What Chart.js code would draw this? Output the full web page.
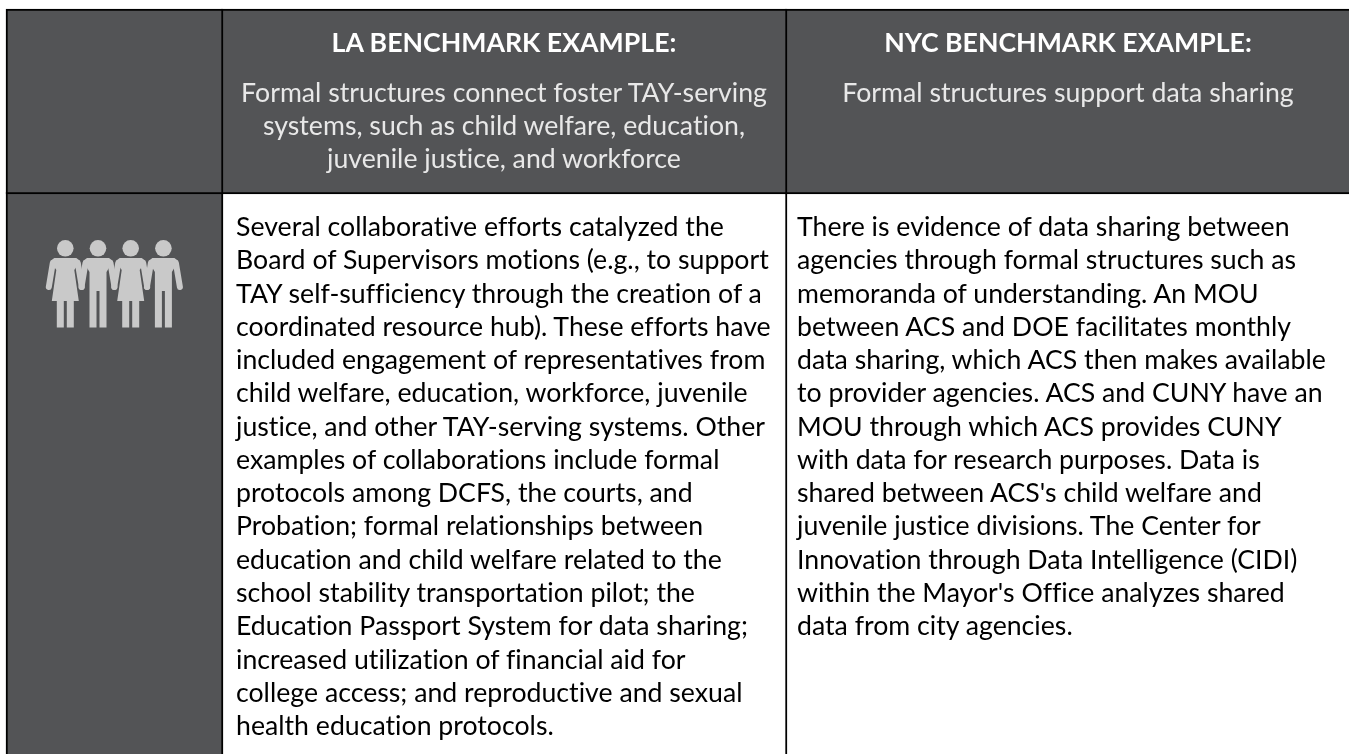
<!DOCTYPE html>
<html><head><meta charset="utf-8">
<style>html,body{margin:0;padding:0;background:#fff;overflow:hidden}#w{position:relative;width:1349px;height:754px}</style>
<script src="https://cdn.jsdelivr.net/npm/chart.js@4"></script></head>
<body><div id="w"><canvas id="c" width="1349" height="754"></canvas></div>
<script>
const headerTitles = ['', 'LA BENCHMARK EXAMPLE:', 'NYC BENCHMARK EXAMPLE:'];
const headerSubtitles = [
  [],
  ['Formal structures connect foster TAY-serving','systems, such as child welfare, education,','juvenile justice, and workforce'],
  ['Formal structures support data sharing']
];
const bodyLines = [
  [],
  ['Several collaborative efforts catalyzed the','Board of Supervisors motions (e.g., to support','TAY self-sufficiency through the creation of a','coordinated resource hub). These efforts have','included engagement of representatives from','child welfare, education, workforce, juvenile','justice, and other TAY-serving systems. Other','examples of collaborations include formal','protocols among DCFS, the courts, and','Probation; formal relationships between','education and child welfare related to the','school stability transportation pilot; the','Education Passport System for data sharing;','increased utilization of financial aid for','college access; and reproductive and sexual','health education protocols.'],
  ['There is evidence of data sharing between','agencies through formal structures such as','memoranda of understanding. An MOU','between ACS and DOE facilitates monthly','data sharing, which ACS then makes available','to provider agencies. ACS and CUNY have an','MOU through which ACS provides CUNY','with data for research purposes. Data is','shared between ACS\'s child welfare and','juvenile justice divisions. The Center for','Innovation through Data Intelligence (CIDI)','within the Mayor\'s Office analyzes shared','data from city agencies.']
];
const columnEdges = [6, 223, 787, 1360];
const rowEdges = [9, 194, 770];
const DARK = '#535456', LINE = '#000000', ICON = '#c9c9c9';
const cellFills = [[DARK, DARK, DARK], [DARK, '#ffffff', '#ffffff']];

const datasets = [];
rowEdges.slice(0, -1).forEach((top0, r) => {
  columnEdges.slice(0, -1).forEach((left, c) => {
    const right = columnEdges[c + 1], bottom = rowEdges[r + 1], top = top0 - (r ? 2 : 0);
    datasets.push({
      data: [{x: (left + right - (c ? 2 : 0)) / 2, y: [top, bottom]}],
      barThickness: right - left + (c ? 2 : 0),
      backgroundColor: cellFills[r][c], borderColor: LINE, borderWidth: 2, borderSkipped: false
    });
  });
});

const tablePlugin = {
  id: 'tableText',
  afterDatasetsDraw(chart) {
    const ctx = chart.ctx, X = chart.scales.x, Y = chart.scales.y;
    const FONT = '"Lato"';
    ctx.save();
    ctx.textBaseline = 'alphabetic';
    ctx.fontKerning = 'normal';
    ctx.letterSpacing = '0.01px';
    const centers = [0, 504, 1068];
    for (let c = 1; c < 3; c++) {
      ctx.textAlign = 'center'; ctx.fillStyle = '#ffffff';
      ctx.font = 'bold 26.67px ' + FONT;
      ctx.fillText(headerTitles[c], X.getPixelForValue(centers[c]), Y.getPixelForValue(52));
      ctx.font = '26.67px ' + FONT; ctx.fillStyle = '#e8e8e8';
      headerSubtitles[c].forEach((t, i) => ctx.fillText(t, X.getPixelForValue(centers[c]), Y.getPixelForValue(102 + i * 33)));
      ctx.textAlign = 'left'; ctx.fillStyle = '#000000';
      const lx = [0, 236, 797][c];
      bodyLines[c].forEach((t, i) => ctx.fillText(t, X.getPixelForValue(lx), Y.getPixelForValue(236 + i * 33.27)));
    }
    // people icon
    ctx.fillStyle = ICON; ctx.strokeStyle = ICON; ctx.lineCap = 'round'; ctx.lineJoin = 'round';
    [0, 1, 2, 3].forEach(i => {
      const cx = X.getPixelForValue(65.3 + i * 32.7), f = i % 2 === 0;
      const y = v => Y.getPixelForValue(v);
      ctx.beginPath(); ctx.arc(cx, y(248.3), 8.3, 0, 7); ctx.fill();
      ctx.lineWidth = 6;
      ctx.beginPath(); ctx.moveTo(cx - 12.5, y(263)); ctx.lineTo(cx - 16.5, y(287)); ctx.moveTo(cx + 12.5, y(263)); ctx.lineTo(cx + 16.5, y(287)); ctx.stroke();
      ctx.beginPath();
      if (f) { ctx.moveTo(cx - 11, y(258)); ctx.lineTo(cx + 11, y(258)); ctx.lineTo(cx + 15, y(261)); ctx.lineTo(cx + 9, y(270)); ctx.lineTo(cx + 13.5, y(301)); ctx.lineTo(cx - 13.5, y(301)); ctx.lineTo(cx - 9, y(270)); ctx.lineTo(cx - 15, y(261)); }
      else { ctx.moveTo(cx - 11, y(258)); ctx.lineTo(cx + 11, y(258)); ctx.lineTo(cx + 15, y(261)); ctx.lineTo(cx + 8.5, y(272)); ctx.lineTo(cx + 8.5, y(327.5)); ctx.lineTo(cx + 1.5, y(327.5)); ctx.lineTo(cx + 1.5, y(291)); ctx.lineTo(cx - 1.5, y(291)); ctx.lineTo(cx - 1.5, y(327.5)); ctx.lineTo(cx - 8.5, y(327.5)); ctx.lineTo(cx - 8.5, y(272)); ctx.lineTo(cx - 15, y(261)); }
      ctx.closePath(); ctx.fill();
      if (f) { ctx.fillRect(cx - 8.5, y(300), 7, 27.5); ctx.fillRect(cx + 1.5, y(300), 7, 27.5); }
    });
    ctx.restore();
  }
};

new Chart(document.getElementById('c'), {
  type: 'bar',
  data: { datasets },
  plugins: [tablePlugin],
  options: {
    responsive: false, animation: false, grouped: false,
    layout: { padding: 0 },
    plugins: { legend: { display: false }, tooltip: { enabled: false }, title: { display: false } },
    scales: {
      x: { type: 'linear', min: 0, max: 1349, display: false, offset: false },
      y: { type: 'linear', min: 0, max: 754, reverse: true, display: false }
    }
  }
});
</script></body></html>
